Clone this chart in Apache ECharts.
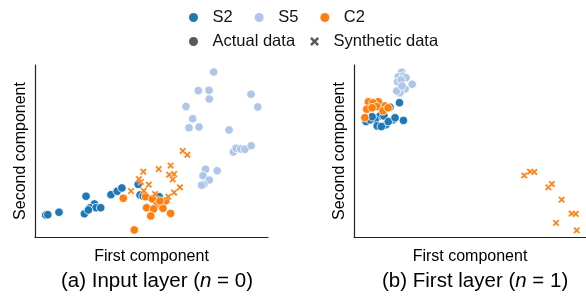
<!DOCTYPE html>
<html>
<head>
<meta charset="utf-8">
<script src="https://cdn.jsdelivr.net/npm/echarts@6/dist/echarts.min.js"></script>
<style>
  html, body { margin: 0; padding: 0; background: #fff; }
  #chart { width: 586px; height: 296px; }
</style>
</head>
<body>
<div id="chart"></div>
<script>
// (a) input layer, n = 0
var s2ActualA = [[0.46,1.28],[0.55,1.30],[1.03,1.44],[2.19,2.37],[2.12,1.35],[2.55,1.92],[2.36,1.70],[2.62,1.70],
  [2.82,1.70],[2.29,1.57],[3.26,2.46],[3.53,2.66],[3.73,2.85],[4.43,3.06],[4.51,2.44],[5.33,2.34],[4.64,2.38]];
var s5ActualA = [[7.67,9.59],[7.01,8.51],[7.47,8.53],[7.48,8.02],[6.48,7.58],[9.27,8.30],[9.56,7.56],[6.77,6.88],
  [6.61,6.35],[7.04,6.40],[8.33,6.22],[8.51,4.94],[8.63,5.16],[8.83,5.12],[9.01,5.10],[9.28,5.31],
  [7.32,3.94],[7.82,3.85],[7.21,3.56],[7.48,3.31],[7.25,3.06],[7.15,3.01]];
var c2ActualA = [[3.79,2.25],[4.75,2.34],[5.04,2.21],[5.61,2.10],[5.24,1.89],[4.79,1.70],[5.09,1.63],[5.49,1.67],
  [4.97,1.22],[5.82,1.37],[4.26,0.41],[5.36,2.09]];
var c2SynthA = [[6.34,5.00],[6.54,4.78],[4.65,3.80],[5.31,3.95],[5.82,4.15],[5.76,3.62],[5.97,3.66],[5.91,3.35],
  [4.55,3.20],[4.88,3.04],[4.12,2.67],[4.67,2.69],[6.22,2.89],[5.97,2.58],[5.72,2.34],[5.15,2.50],[4.46,3.37]];

// (b) first layer, n = 1
var s2ActualB = [[1.96,7.81],[2.13,6.78],[1.55,7.55],[1.12,7.04],[1.29,7.04],[0.91,6.81],[0.52,6.71],[1.00,6.46],
  [1.38,6.52],[1.69,6.81],[1.18,6.42],[1.48,6.71],[0.69,6.81],[1.77,6.93],[0.78,6.99]];
var s5ActualB = [[2.06,9.58],[1.91,9.32],[2.13,9.36],[2.24,9.26],[1.88,9.03],[2.03,9.13],[2.51,8.88],[2.20,8.61],
  [1.98,8.39],[1.84,8.49],[2.07,8.78]];
var c2ActualB = [[0.62,7.86],[1.05,7.87],[0.82,7.80],[1.34,7.62],[0.55,7.43],[0.98,7.58],[1.25,7.33],[0.47,6.94],
  [0.78,7.51],[1.47,7.51]];
var c2SynthB = [[7.34,3.58],[7.59,3.80],[7.77,3.78],[8.38,2.89],[8.53,3.08],[8.95,2.17],[9.38,1.36],[9.56,1.34],
  [8.71,0.82],[9.60,0.39]];

var classNames = ['S2', 'S5', 'C2'];
var kindNames = ['Actual data', 'Synthetic data'];
var panelTitles = ['Input layer', 'First layer'];

var colS2 = '#1f77b4', colS5 = '#aec7e8', colC2 = '#ff7f0e', colDark = '#2b3038';
var crossPath = 'path://M0,2 L2,0 L5,3 L8,0 L10,2 L7,5 L10,8 L8,10 L5,7 L2,10 L0,8 L3,5 Z';
var font = 'Liberation Sans, Arial, sans-serif';

var chart = echarts.init(document.getElementById('chart'));

var axisLine = { show: true, lineStyle: { color: '#222', width: 1.2 } };

function xAx(idx) {
  return {
    gridIndex: idx, type: 'value', min: 0, max: 10,
    axisLine: axisLine, axisTick: { show: false }, axisLabel: { show: false }, splitLine: { show: false },
    name: 'First component', nameLocation: 'middle', nameGap: 12,
    nameTextStyle: { fontFamily: font, fontSize: 16, color: '#000' }
  };
}
function yAx(idx) {
  return {
    gridIndex: idx, type: 'value', min: 0, max: 10,
    axisLine: axisLine, axisTick: { show: false }, axisLabel: { show: false }, splitLine: { show: false },
    name: 'Second component', nameLocation: 'middle', nameGap: 6,
    nameTextStyle: { fontFamily: font, fontSize: 16, color: '#000' }
  };
}

function dots(name, idx, data, color) {
  return {
    name: name, type: 'scatter', xAxisIndex: idx, yAxisIndex: idx, data: data,
    symbol: 'circle', symbolSize: 8.5,
    itemStyle: { color: color, borderColor: '#fff', borderWidth: 0.8, opacity: 1 }
  };
}
function crosses(name, idx, data, color) {
  return {
    name: name, type: 'scatter', xAxisIndex: idx, yAxisIndex: idx, data: data,
    symbol: crossPath, symbolSize: 7,
    itemStyle: { color: color, borderColor: '#fff', borderWidth: 0.4, opacity: 1 }
  };
}

var legendText = { fontFamily: font, fontSize: 16.5, color: '#111' };

var option = {
  animation: false,
  textStyle: { fontFamily: font },
  grid: [
    { left: 35, top: 65, width: 233, height: 172 },
    { left: 354, top: 65, width: 232, height: 172 }
  ],
  xAxis: [xAx(0), xAx(1)],
  yAxis: [yAx(0), yAx(1)],
  legend: [
    {
      left: 184, top: 4, itemWidth: 28, itemHeight: 9, itemGap: 22, icon: 'circle',
      textStyle: legendText,
      itemStyle: { borderWidth: 0 },
      data: classNames
    },
    {
      left: 184, top: 28, itemWidth: 28, itemHeight: 9, itemGap: 15,
      textStyle: legendText,
      itemStyle: { borderWidth: 0 },
      data: [
        { name: kindNames[0], icon: 'circle', itemStyle: { color: colDark } },
        { name: kindNames[1], icon: crossPath, itemStyle: { color: colDark } }
      ]
    }
  ],
  graphic: [
    {
      type: 'text', left: 61, top: 271,
      style: {
        text: '(a) ' + panelTitles[0] + ' ({i|n} = 0)',
        rich: { i: { fontStyle: 'italic', fontSize: 20.5, fontFamily: font } },
        fontFamily: font, fontSize: 20.5, fill: '#000'
      }
    },
    {
      type: 'text', left: 382, top: 271,
      style: {
        text: '(b) ' + panelTitles[1] + ' ({i|n} = 1)',
        rich: { i: { fontStyle: 'italic', fontSize: 20.5, fontFamily: font } },
        fontFamily: font, fontSize: 20.5, fill: '#000'
      }
    }
  ],
  series: [
    dots('S2', 0, s2ActualA, colS2),
    dots('S5', 0, s5ActualA, colS5),
    dots('C2', 0, c2ActualA, colC2),
    crosses('C2 synthetic', 0, c2SynthA, colC2),
    dots('S2', 1, s2ActualB, colS2),
    dots('S5', 1, s5ActualB, colS5),
    dots('C2', 1, c2ActualB, colC2),
    crosses('C2 synthetic', 1, c2SynthB, colC2),
    // empty series that only feed the second legend row
    { name: kindNames[0], type: 'scatter', data: [], itemStyle: { color: colDark } },
    { name: kindNames[1], type: 'scatter', data: [], symbol: crossPath, itemStyle: { color: colDark } }
  ]
};

chart.setOption(option);
</script>
</body>
</html>
